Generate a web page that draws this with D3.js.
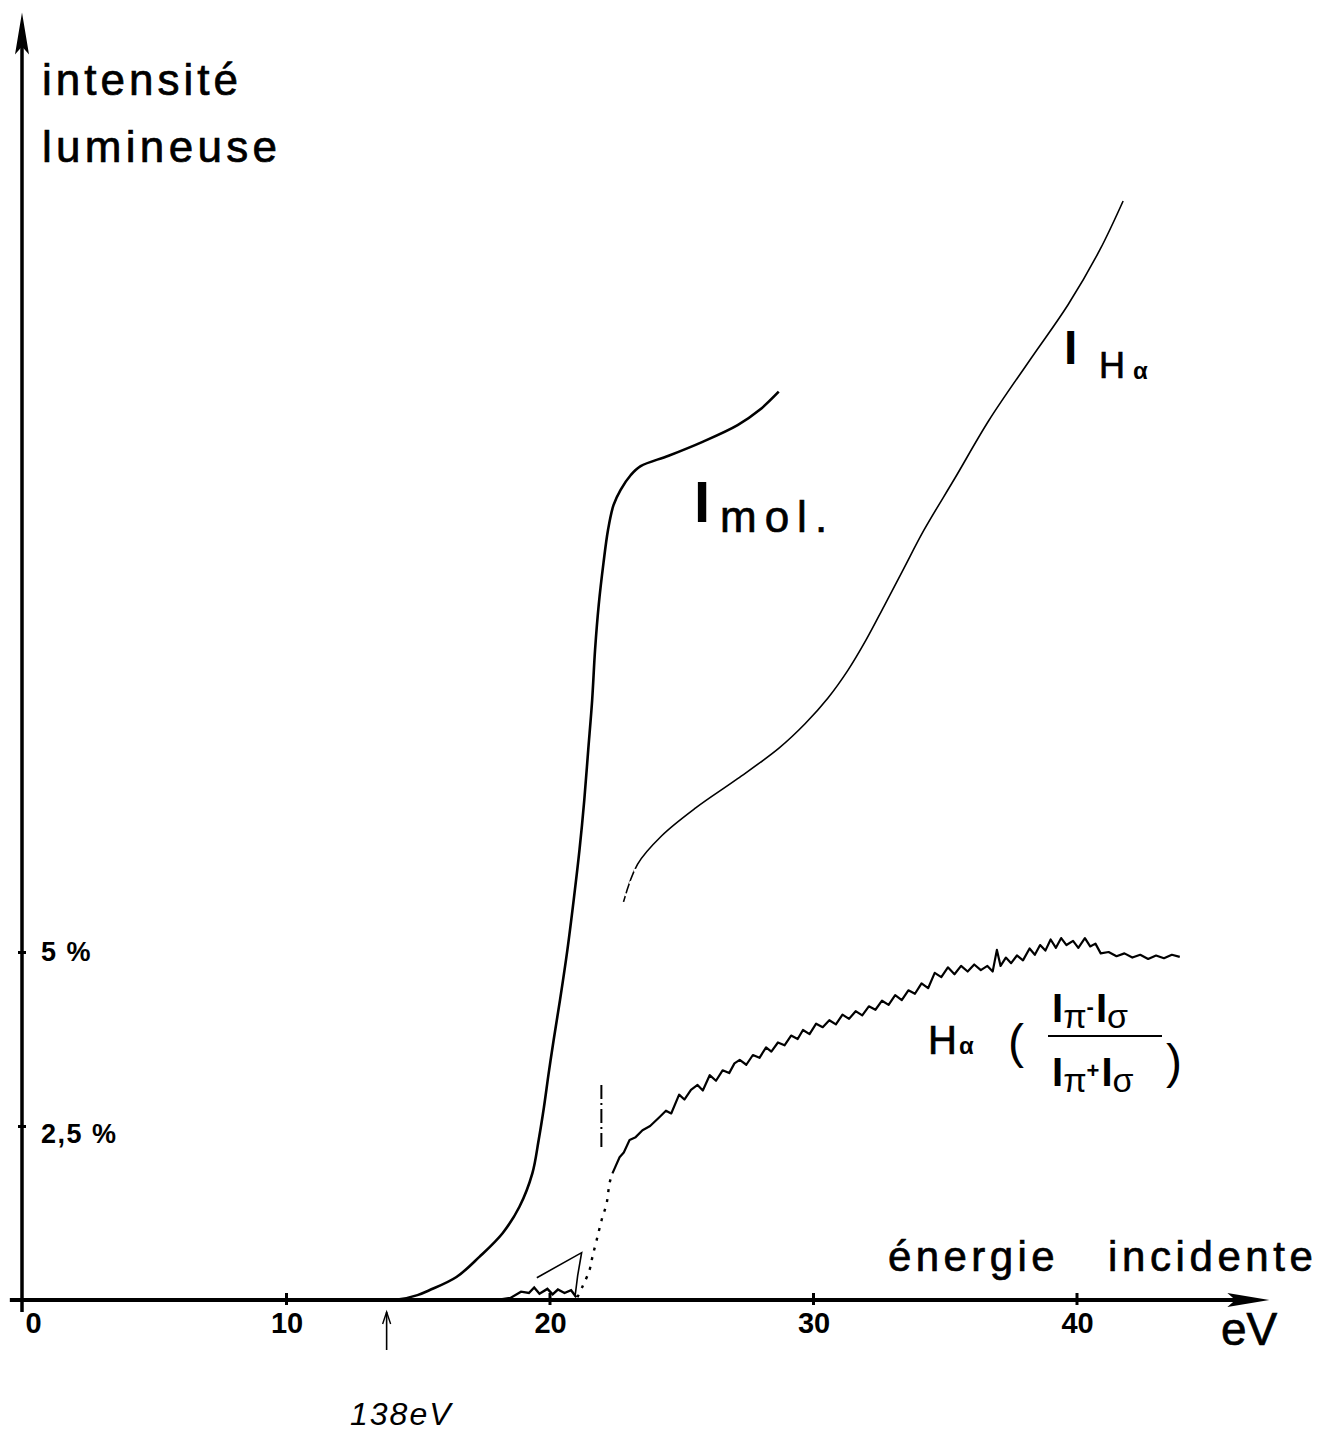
<!DOCTYPE html>
<html><head><meta charset="utf-8">
<script src="https://cdn.jsdelivr.net/npm/d3@7"></script>
<style>
html,body{margin:0;padding:0;background:#fff;}
svg{display:block;}
text{font-family:"Liberation Sans",Arial,sans-serif;fill:#000;}
</style></head>
<body>
<svg id="c" width="1323" height="1440"></svg>
<script>
// ---------- data ----------
const xTicks = [0, 10, 20, 30, 40];
const yTicks = [2.5, 5];
const yTickLabels = ["2,5 %", "5 %"];
const threshold = 13.8; // eV, marked by hand arrow

// I mol. : [energy eV, intensity (same units as % scale)]
const iMol = [[5,0],[12,0],[14.28,0.01],[14.97,0.07],[15.42,0.14],[16.45,0.33],[17.32,0.62],[18.2,0.96],
 [18.84,1.34],[19.33,1.82],[19.57,2.30],[19.77,2.77],[19.95,3.26],[20.14,3.74],[20.38,4.31],[20.66,5.03],
 [20.9,5.75],[21.12,6.47],[21.3,7.18],[21.45,7.90],[21.6,8.62],[21.71,9.34],[21.85,9.99],[22.03,10.59],
 [22.2,11.06],[22.41,11.42],[22.68,11.64],[23.06,11.85],[23.44,11.98],[24.5,12.13],[25.79,12.33],
 [27.12,12.57],[27.96,12.79],[28.68,13.05]];

// I H-alpha
const iHa = [[22.79,5.72],[23.32,6.26],[24.24,6.67],[25.53,7.07],[27.12,7.49],[28.69,7.93],[29.68,8.28],
 [30.55,8.65],[31.31,9.05],[31.99,9.48],[32.68,9.97],[33.4,10.49],[34.19,11.06],[35.37,11.81],
 [36.66,12.64],[38.22,13.51],[39.66,14.30],[40.87,15.09],[41.75,15.79]];

// H-alpha polarisation (Ipi-Isigma)/(Ipi+Isigma) in %
const polLow = [[5,0],[18.0,0],[18.5,0.03],[18.9,0.12],[19.2,0.10],[19.4,0.18],[19.6,0.09],[19.9,0.16],
 [20.1,0.08],[20.3,0.15],[20.55,0.10],[20.8,0.14],[21.0,0.04]];
const polRise = [[21.04,0.04],[21.23,0.19],[21.5,0.43],[21.61,0.62],[21.77,0.86],[21.96,1.15],[22.15,1.39],
 [22.26,1.68],[22.37,1.82]];
const polMain = [[22.37,1.82],[22.64,2.05],[22.8,2.12],[23.02,2.30],[23.25,2.34],[23.51,2.44],[23.8,2.50],
 [24.16,2.63],[24.4,2.72],[24.6,2.68],[24.9,2.95],[25.1,2.88],[25.35,3.02],[25.6,3.09],[25.8,3.01],
 [26.06,3.23],[26.3,3.15],[26.55,3.30],[26.8,3.26],[27.0,3.40],[27.2,3.45],[27.45,3.38],[27.7,3.52],
 [27.95,3.48],[28.2,3.63],[28.4,3.57],[28.65,3.70],[28.9,3.66],[29.15,3.80],[29.4,3.75],[29.6,3.88],
 [29.85,3.82],[30.1,3.97],[30.35,3.92],[30.6,4.02],[30.85,3.96],[31.1,4.10],[31.35,4.04],[31.6,4.15],
 [31.85,4.09],[32.1,4.22],[32.35,4.17],[32.6,4.30],[32.85,4.24],[33.1,4.38],[33.35,4.31],[33.6,4.45],
 [33.85,4.40],[34.1,4.55],[34.35,4.48],[34.6,4.70],[34.85,4.64],[35.1,4.78],[35.35,4.68],[35.6,4.80],
 [35.85,4.72],[36.1,4.82],[36.35,4.74],[36.6,4.80],[36.8,4.72],[36.96,5.03],[37.1,4.80],[37.3,4.92],
 [37.5,4.84],[37.72,4.95],[37.95,4.88],[38.2,5.05],[38.4,4.96],[38.6,5.10],[38.8,5.02],[39.0,5.18],
 [39.2,5.06],[39.4,5.20],[39.6,5.10],[39.85,5.16],[40.05,5.06],[40.3,5.20],[40.5,5.08],[40.7,5.12],
 [40.9,4.98],[41.2,5.00],[41.5,4.94],[41.8,4.98],[42.1,4.92],[42.4,4.96],[42.7,4.90],[43.0,4.95],
 [43.3,4.91],[43.6,4.96],[43.9,4.93]];
// secondary short trace near 20 eV
const polAux = [[19.5,0.32],[21.2,0.68],[21.05,0.35],[20.95,0.05]];
// vertical marker near 21.9 eV
const marker = [[21.95,2.2],[21.95,3.1]];

// ---------- drawing ----------
const svg = d3.select("#c");
const x = d3.scaleLinear().domain([0, 40]).range([23, 1077]);
const y = d3.scaleLinear().domain([0, 5]).range([1300, 952]);
const xAxisEnd = 47.3, yAxisTop = 18.5, xAxisStart = -0.5;

const line = d3.line().x(d => x(d[0])).y(d => y(d[1]));
const smooth = d3.line().x(d => x(d[0])).y(d => y(d[1])).curve(d3.curveCatmullRom.alpha(0.5));
const serif = "Liberation Serif, Times New Roman, serif";

// x axis
const gx = svg.append("g").attr("transform", `translate(0,${y(0)})`)
  .call(d3.axisBottom(x).tickValues(xTicks).tickSize(0).tickPadding(12).tickFormat(d3.format("d")));
gx.select(".domain").remove();
gx.selectAll("text").attr("font-size", 29).attr("font-weight", "bold")
  .attr("font-family", "Liberation Sans, Arial, sans-serif").attr("fill", "#000");
gx.selectAll(".tick").filter(d => d === 0).select("text").attr("dx", 10);
svg.append("line").attr("x1", x(xAxisStart)).attr("x2", x(xAxisEnd) - 20)
  .attr("y1", y(0)).attr("y2", y(0)).attr("stroke", "#000").attr("stroke-width", 4);
svg.append("path").attr("d", `M${x(xAxisEnd)},${y(0)} L${x(xAxisEnd)-42},${y(0)-7} L${x(xAxisEnd)-34},${y(0)} L${x(xAxisEnd)-42},${y(0)+7}Z`).attr("fill", "#000");
svg.selectAll(".xt").data(xTicks.slice(1)).join("line").attr("class","xt")
  .attr("x1", d => x(d)).attr("x2", d => x(d)).attr("y1", y(0)-7).attr("y2", y(0)+5)
  .attr("stroke", "#000").attr("stroke-width", 3);

// y axis
svg.append("line").attr("x1", x(0) - 1).attr("x2", x(0) - 1).attr("y1", y(0) + 12).attr("y2", y(yAxisTop) + 30)
  .attr("stroke", "#000").attr("stroke-width", 3.5);
svg.append("path").attr("d", `M${x(0)-1},${y(yAxisTop)} L${x(0)-8},${y(yAxisTop)+42} L${x(0)-1},${y(yAxisTop)+34} L${x(0)+6},${y(yAxisTop)+42}Z`).attr("fill", "#000");
const gy = svg.append("g").attr("transform", `translate(${x(0)-1},0)`)
  .call(d3.axisRight(y).tickValues(yTicks).tickSize(4).tickPadding(15).tickFormat((d, i) => yTickLabels[i]));
gy.select(".domain").remove();
gy.selectAll("line").attr("stroke", "#000").attr("stroke-width", 3).attr("x1", -4);
gy.selectAll("text").attr("font-size", 27).attr("font-weight", "bold").attr("letter-spacing", 1.5)
  .attr("font-family", "Liberation Sans, Arial, sans-serif").attr("fill", "#000");
gy.selectAll(".tick").filter(d => d === 2.5).select("text").attr("dy", "0.62em");

// curves
svg.append("path").datum(iMol).attr("d", smooth).attr("fill", "none").attr("stroke", "#000").attr("stroke-width", 2.6);
svg.append("path").datum(iHa).attr("d", smooth).attr("fill", "none").attr("stroke", "#000").attr("stroke-width", 1.6);
svg.append("path").datum(iHa.slice(0, 2)).attr("d", line).attr("fill", "none").attr("stroke", "#fff").attr("stroke-width", 3).attr("stroke-dasharray", "0,6,3,4");
svg.append("path").datum(polLow).attr("d", line).attr("fill", "none").attr("stroke", "#000").attr("stroke-width", 2.4);
svg.append("path").datum(polRise).attr("d", smooth).attr("fill", "none").attr("stroke", "#000").attr("stroke-width", 2.4).attr("stroke-dasharray", "3,7");
svg.append("path").datum(polMain).attr("d", line).attr("fill", "none").attr("stroke", "#000").attr("stroke-width", 2.2).attr("stroke-linejoin", "round");
svg.append("path").datum(polAux).attr("d", line).attr("fill", "none").attr("stroke", "#000").attr("stroke-width", 1.6);
svg.append("path").datum(marker).attr("d", line).attr("fill", "none").attr("stroke", "#000").attr("stroke-width", 2).attr("stroke-dasharray", "14,4,2,4");

// axis titles (slight stroke to mimic the heavier print)
function txt(xp, yp, size, ls, s) {
  return svg.append("text").attr("x", xp).attr("y", yp).attr("font-size", size).attr("letter-spacing", ls)
    .attr("stroke", "#000").attr("stroke-width", 0.7).text(s);
}
txt(42, 95, 44, 4, "intensité");
txt(42, 162, 44, 4.3, "lumineuse");
txt(888, 1271, 42, 4.4, "énergie");
txt(1108, 1271, 42, 4.6, "incidente");
txt(1221, 1345, 46, 0, "eV");

// curve labels
svg.append("text").attr("x", 694).attr("y", 522).attr("font-size", 58).attr("font-family", serif).attr("font-weight", "bold").text("I");
txt(720, 532, 44, 8, "mol.");
svg.append("text").attr("x", 1064).attr("y", 364).attr("font-size", 48).attr("font-family", serif).attr("font-weight", "bold").text("I");
txt(1099, 378, 36, 0, "H");
svg.append("text").attr("x", 1133).attr("y", 379).attr("font-size", 24).attr("font-weight", "bold").text("α");

txt(928, 1054, 40, 0, "H");
svg.append("text").attr("x", 959).attr("y", 1054).attr("font-size", 24).attr("font-weight", "bold").text("α");
svg.append("text").attr("x", 1008).attr("y", 1058).attr("font-size", 48).text("(");
svg.append("text").attr("x", 1166).attr("y", 1078).attr("font-size", 48).text(")");
svg.append("line").attr("x1", 1048).attr("x2", 1162).attr("y1", 1036).attr("y2", 1036).attr("stroke", "#000").attr("stroke-width", 2);
function frac(yb, sign) {
  const g = svg.append("text").attr("x", 1052).attr("y", yb).attr("font-family", serif).attr("font-size", 40);
  g.append("tspan").attr("font-weight", "bold").text("I");
  g.append("tspan").attr("dy", 6).attr("font-size", 34).text("π");
  g.append("tspan").attr("dy", -14).attr("font-size", 22).attr("font-weight", "bold").text(sign);
  g.append("tspan").attr("dy", 8).attr("dx", 2).attr("font-weight", "bold").text("I");
  g.append("tspan").attr("dy", 6).attr("font-size", 34).text("σ");
}
frac(1022, "-");
frac(1086, "+");

// threshold arrow + handwritten note
const ax = x(threshold);
svg.append("line").attr("x1", ax).attr("x2", ax).attr("y1", y(0) + 50).attr("y2", y(0) + 12).attr("stroke", "#000").attr("stroke-width", 1.6);
svg.append("path").attr("d", `M${ax-4},${y(0)+24} L${ax},${y(0)+12} L${ax+4},${y(0)+24}`).attr("fill", "none").attr("stroke", "#000").attr("stroke-width", 1.4);
svg.append("text").attr("x", 350).attr("y", 1425).attr("font-size", 32).attr("font-style", "italic")
  .attr("font-family", serif).attr("letter-spacing", 2).text("138eV");
</script>
</body></html>
